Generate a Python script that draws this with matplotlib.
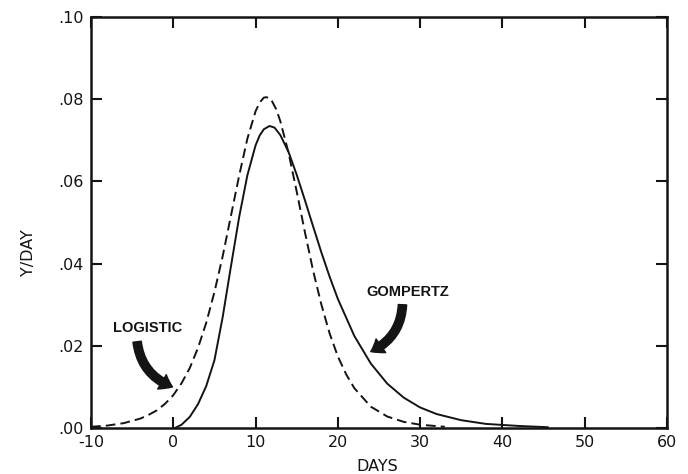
import matplotlib
matplotlib.use("Agg")
import matplotlib.pyplot as plt
from matplotlib.patches import FancyArrowPatch

# logistic curve (dashed)
logistic_days = [-10, -8, -6, -4, -3, -2, -1, 0, 1, 2, 3, 4, 5, 6, 7, 8, 9, 10, 10.5, 11, 11.3,
                 11.7, 12, 12.5, 13, 14, 15, 16, 17, 18, 19, 20, 21, 22, 24, 26, 28, 30, 33]
logistic_rate = [0.0003, 0.0006, 0.0012, 0.0023, 0.0032, 0.0043, 0.0059, 0.0080, 0.0109,
                 0.0146, 0.0195, 0.0256, 0.0331, 0.0418, 0.0516, 0.0614, 0.0704, 0.0771,
                 0.0792, 0.0804, 0.0805, 0.0803, 0.0795, 0.0776, 0.0747, 0.0670, 0.0575,
                 0.0476, 0.0382, 0.0300, 0.0230, 0.0174, 0.0131, 0.0097, 0.0052, 0.0028,
                 0.0015, 0.0008, 0.0003]

# gompertz curve (solid)
gompertz_days = [0.2, 1, 2, 3, 4, 5, 6, 7, 8, 9, 10, 10.5, 11, 11.7, 12.3, 13, 14, 15, 16,
                 17, 18, 19, 20, 22, 24, 26, 28, 30, 32, 35, 38, 42, 45.5]
gompertz_rate = [0.0000, 0.0008, 0.0027, 0.0058, 0.0102, 0.0165, 0.0270, 0.0393, 0.0513,
                 0.0615, 0.0688, 0.0712, 0.0727, 0.0735, 0.0731, 0.0713, 0.0672, 0.0616,
                 0.0554, 0.0490, 0.0427, 0.0368, 0.0314, 0.0224, 0.0157, 0.0108, 0.0074,
                 0.0050, 0.0034, 0.0019, 0.0010, 0.0005, 0.0002]

x_ticks = [-10, 0, 10, 20, 30, 40, 50, 60]
x_tick_labels = ["-10", "0", "10", "20", "30", "40", "50", "60"]
y_ticks = [0.0, 0.02, 0.04, 0.06, 0.08, 0.10]
y_tick_labels = [".00", ".02", ".04", ".06", ".08", ".10"]

ink = "#141414"

fig = plt.figure(figsize=(6.88, 4.74), dpi=100)
ax = fig.add_axes([0.1323, 0.097, 0.8372, 0.867])

ax.plot(logistic_days, logistic_rate, color=ink, lw=1.4, dashes=(5, 2.6))
ax.plot(gompertz_days, gompertz_rate, color=ink, lw=1.4)

ax.set_xlim(-10, 60)
ax.set_ylim(0, 0.10)
ax.set_xticks(x_ticks)
ax.set_xticklabels(x_tick_labels)
ax.set_yticks(y_ticks)
ax.set_yticklabels(y_tick_labels)
ax.tick_params(direction="in", length=8, width=1.5, top=True, right=True,
               labelsize=11.5, colors=ink, pad=5)
for s in ax.spines.values():
    s.set_linewidth(1.8)
    s.set_color(ink)

ax.set_xlabel("DAYS", fontsize=11.5, color=ink)
ax.xaxis.set_label_coords(0.497, -0.075)
ax.set_ylabel("Y/DAY", fontsize=11.5, color=ink)
ax.yaxis.set_label_coords(-0.095, 0.426)

ax.text(-3.1, 0.0243, "LOGISTIC", fontsize=10.5, fontweight="bold", color=ink,
        ha="center", va="center", family="Liberation Sans")
ax.text(28.5, 0.033, "GOMPERTZ", fontsize=10.5, fontweight="bold", color=ink,
        ha="center", va="center", family="Liberation Sans")

arrow_style = "simple,head_length=0.7,head_width=1.0,tail_width=0.5"
a1 = FancyArrowPatch((-4.4, 0.021), (-0.1, 0.010), arrowstyle=arrow_style,
                     connectionstyle="arc3,rad=0.3", mutation_scale=12,
                     color=ink, shrinkA=0, shrinkB=0)
a2 = FancyArrowPatch((27.85, 0.030), (24.0, 0.0186), arrowstyle=arrow_style,
                     connectionstyle="arc3,rad=-0.3", mutation_scale=12,
                     color=ink, shrinkA=0, shrinkB=0)
ax.add_patch(a1)
ax.add_patch(a2)

fig.savefig("out.png")
